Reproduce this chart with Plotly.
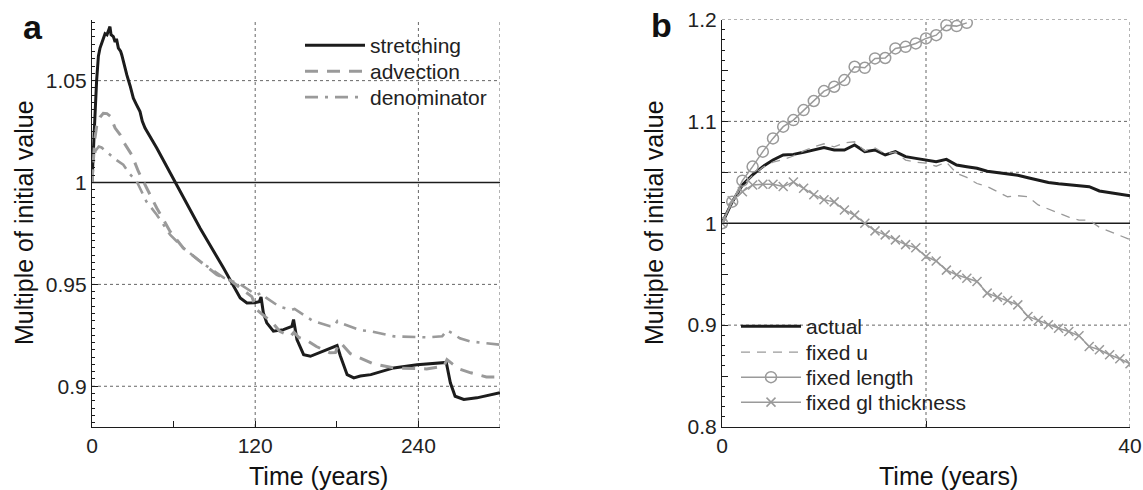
import plotly.graph_objects as go

# ---------------- panel a: terms of the budget over 300 years ----------------
stretch_t = [0, 1, 2.2, 3.4, 4.7, 5.9, 7.1, 8.3, 9.6, 11, 12, 13.2, 14, 15.7, 17, 18,
             19.4, 21, 21.9, 23.5, 25.6, 28, 30.4, 32.5, 35.3, 37, 39, 47.6, 62.3,
             79.5, 96.7, 109, 113.9, 119.5, 123, 124.3, 126, 128.5, 133.4, 140.8,
             147, 148.2, 150.7, 155.6, 160.6, 170.4, 180.2, 182.7, 187.6, 192.5,
             197.3, 205, 221.8, 239, 258.7, 260.5, 263.5, 267, 273.4, 283, 300]
stretch_v = [1.0, 1.02, 1.033, 1.05, 1.062, 1.066, 1.068, 1.0705, 1.073, 1.0725, 1.074,
             1.0765, 1.0725, 1.0716, 1.069, 1.0705, 1.066, 1.0645, 1.0626, 1.058,
             1.0528, 1.0475, 1.0414, 1.0385, 1.0348, 1.030, 1.0267, 1.0169, 0.9989,
             0.9776, 0.958, 0.9433, 0.9409, 0.941, 0.9415, 0.9438, 0.936, 0.9311,
             0.927, 0.9278, 0.9294, 0.9327, 0.9229, 0.9155, 0.9147, 0.9172, 0.920,
             0.9147, 0.9057, 0.9041, 0.905, 0.9057, 0.909, 0.9106, 0.9115, 0.9117,
             0.9017, 0.8951, 0.8935, 0.8943, 0.8968]

advect_t = [0, 1, 2, 3.4, 5.9, 8.3, 11, 13.5, 17, 20.6, 23, 29.2, 34.1, 40.2, 47.6,
            57.4, 67.2, 79.5, 91.8, 101.6, 117.5, 121, 128.5, 133, 138, 143, 146,
            148.5, 152, 158, 165, 175, 179, 181.5, 184, 190, 197, 207, 222, 246,
            258.7, 261, 265, 270, 278.5, 290, 300]
advect_v = [1.0, 1.012, 1.021, 1.0275, 1.032, 1.034, 1.0338, 1.0325, 1.0267, 1.0235,
            1.0201, 1.0136, 1.0054, 0.9973, 0.9875, 0.976, 0.9678, 0.9613, 0.9548,
            0.952, 0.944, 0.9376, 0.9335, 0.931, 0.927, 0.9253, 0.9245, 0.9265,
            0.924, 0.9225, 0.9195, 0.9164, 0.9165, 0.9213, 0.9205, 0.916, 0.914,
            0.911, 0.909, 0.9085, 0.9098, 0.9131, 0.911, 0.9085, 0.9066, 0.9046,
            0.9046]

denom_t = [0, 1, 2.5, 5, 7, 10, 13.2, 18, 23, 28, 32.9, 40, 47.6, 57.4, 67, 80,
           96.7, 109, 121, 124.5, 128, 138, 147, 149, 162.5, 175, 178, 180.5, 185,
           192.5, 197.3, 205, 222, 246, 257.5, 261, 265, 270.5, 278, 300]
denom_v = [1.0, 1.009, 1.0155, 1.0177, 1.0172, 1.0155, 1.0136, 1.011, 1.0087, 1.004,
           1.0005, 0.9907, 0.9842, 0.9744, 0.968, 0.961, 0.9533, 0.950, 0.9448,
           0.9458, 0.9435, 0.939, 0.9375, 0.938, 0.932, 0.9295, 0.9295, 0.932,
           0.9305, 0.9286, 0.9275, 0.927, 0.9245, 0.924, 0.9245, 0.9275, 0.926,
           0.9235, 0.922, 0.9204]

# ---------------- panel b: sensitivity experiments over 40 years ----------------
years_b = list(range(41))
actual = [1.0, 1.021, 1.0376, 1.0474, 1.0556, 1.0621, 1.067, 1.0676, 1.0696, 1.0719,
          1.0742, 1.0719, 1.0719, 1.0768, 1.0703, 1.0719, 1.067, 1.0703, 1.0654,
          1.0637, 1.0621, 1.0605, 1.0627, 1.0572, 1.0555, 1.0539, 1.051, 1.0497,
          1.048, 1.0472, 1.0447, 1.042, 1.040, 1.0388, 1.0378, 1.0368, 1.0359,
          1.0317, 1.030, 1.0288, 1.027]
fixed_u = [1.0, 1.021, 1.037, 1.047, 1.055, 1.060, 1.0625, 1.066, 1.071, 1.075, 1.078,
           1.075, 1.079, 1.080, 1.071, 1.074, 1.068, 1.070, 1.062, 1.060, 1.059,
           1.056, 1.060, 1.049, 1.045, 1.039, 1.036, 1.031, 1.026, 1.027, 1.026,
           1.018, 1.014, 1.010, 1.006, 1.003, 1.003, 0.996, 0.992, 0.988, 0.984]
years_len = list(range(25))
fixed_length = [1.0, 1.0212, 1.0418, 1.0556, 1.0703, 1.0833, 1.0948, 1.1013, 1.1111,
                1.120, 1.1297, 1.134, 1.1405, 1.1536, 1.1526, 1.1618, 1.1622, 1.1716,
                1.1732, 1.1765, 1.1814, 1.1846, 1.1944, 1.1935, 1.1967]
fixed_gl = [1.0, 1.022, 1.031, 1.0376, 1.0382, 1.0382, 1.036, 1.0405, 1.0343, 1.028,
            1.023, 1.021, 1.013, 1.008, 1.0, 0.9925, 0.9886, 0.9837, 0.979, 0.976,
            0.9673, 0.963, 0.954, 0.9494, 0.9461, 0.9428, 0.9314, 0.9275, 0.9242,
            0.9199, 0.9085, 0.9046, 0.9003, 0.897, 0.8938, 0.8895, 0.8791, 0.8758,
            0.8709, 0.867, 0.862]

# axis ranges, ticks and dotted grid positions
A_XRANGE, A_YRANGE = [0, 300], [0.88, 1.08]
A_XTICKS = [0, 60, 120, 180, 240, 300]
A_XTEXT = ["0", "", "120", "", "240", ""]
A_YTICKS = [0.9, 0.95, 1.0, 1.05]
A_YTEXT = ["0.9", "0.95", "1", "1.05"]
A_GRID_X = [120, 240, 300]
A_GRID_Y = [0.9, 0.95, 1.05]

B_XRANGE, B_YRANGE = [0, 40], [0.8, 1.2]
B_XTICKS = [0, 20, 40]
B_XTEXT = ["0", "", "40"]
B_YTICKS = [0.8, 0.85, 0.9, 0.95, 1.0, 1.05, 1.1, 1.15, 1.2]
B_YTEXT = ["0.8", "", "0.9", "", "1", "", "1.1", "", "1.2"]
B_GRID_X = [20, 40]
B_GRID_Y = [0.9, 1.05, 1.1, 1.2]

W, H = 1143, 490
FONT = "Liberation Sans, Arial, Helvetica, sans-serif"
BLACK = "#1c1c1c"
GREY = "#9a9a9a"

px_x = lambda p: p / W
px_y = lambda p: 1 - p / H

# one single-entry legend per trace, so each row sits at its own height
LEG_A_X, LEG_A_TOPS = 300, [25, 51, 77]
LEG_B_X, LEG_B_TOPS = 736, [306, 332, 357, 382]

fig = go.Figure()

# panel a traces
fig.add_trace(go.Scatter(x=stretch_t, y=stretch_v, name="stretching", mode="lines",
                         line=dict(color=BLACK, width=3), xaxis="x", yaxis="y",
                         legend="legend", showlegend=True))
fig.add_trace(go.Scatter(x=advect_t, y=advect_v, name="advection", mode="lines",
                         line=dict(color=GREY, width=3, dash="13px,9px"),
                         xaxis="x", yaxis="y", legend="legend2"))
fig.add_trace(go.Scatter(x=denom_t, y=denom_v, name="denominator", mode="lines",
                         line=dict(color=GREY, width=2.6, dash="13px,7px,3px,7px"),
                         xaxis="x", yaxis="y", legend="legend3"))

# panel b traces
fig.add_trace(go.Scatter(x=years_b, y=actual, name="actual", mode="lines",
                         line=dict(color=BLACK, width=3), xaxis="x2", yaxis="y2",
                         legend="legend4"))
fig.add_trace(go.Scatter(x=years_b, y=fixed_u, name="fixed u", mode="lines",
                         line=dict(color=GREY, width=1.3, dash="9px,7px"),
                         xaxis="x2", yaxis="y2", legend="legend5"))
fig.add_trace(go.Scatter(x=years_len, y=fixed_length, name="fixed length",
                         mode="lines+markers",
                         line=dict(color=GREY, width=1.5),
                         marker=dict(symbol="circle-open", size=11, color=GREY,
                                     line=dict(width=1.5, color=GREY)),
                         xaxis="x2", yaxis="y2", legend="legend6"))
fig.add_trace(go.Scatter(x=years_b, y=fixed_gl, name="fixed gl thickness",
                         mode="lines+markers",
                         line=dict(color=GREY, width=1.5),
                         marker=dict(symbol="x-thin-open", size=9, color=GREY,
                                     line=dict(width=1.5, color=GREY)),
                         xaxis="x2", yaxis="y2", legend="legend7"))

tickfont = dict(family=FONT, size=21, color="#222")
common_axis = dict(showline=True, linecolor=BLACK, linewidth=1.2, ticks="inside",
                   ticklen=6, tickwidth=1, tickcolor=BLACK, showgrid=False,
                   zeroline=False, tickfont=tickfont, automargin=False,
                   fixedrange=True)

def legend_box(x, top):
    return dict(x=px_x(x), y=px_y(top), xanchor="left", yanchor="top",
                bgcolor="rgba(0,0,0,0)", itemwidth=60, visible=True,
                font=dict(family=FONT, size=21, color="#222"))

legends = {}
for i, top in enumerate(LEG_A_TOPS):
    legends["legend" if i == 0 else f"legend{i + 1}"] = legend_box(LEG_A_X, top)
for i, top in enumerate(LEG_B_TOPS):
    legends[f"legend{i + 4}"] = legend_box(LEG_B_X, top)

ydom = [px_y(427), px_y(19.5)]
fig.update_layout(
    template="none",
    width=W, height=H,
    margin=dict(l=0, r=0, t=0, b=0),
    showlegend=True,
    paper_bgcolor="white", plot_bgcolor="white",
    font=dict(family=FONT, color="#222"),
    xaxis=dict(domain=[px_x(92), px_x(500)], range=A_XRANGE, tickmode="array",
               tickvals=A_XTICKS, ticktext=A_XTEXT, anchor="y", **common_axis),
    yaxis=dict(domain=ydom, range=A_YRANGE, tickmode="array", tickvals=A_YTICKS,
               ticktext=A_YTEXT, anchor="x",
               minor=dict(ticks="inside", ticklen=3, tickcolor=BLACK,
                          dtick=0.05 / 14, tick0=0.9, showgrid=False),
               **common_axis),
    xaxis2=dict(domain=[px_x(722), px_x(1130)], range=B_XRANGE, tickmode="array",
                tickvals=B_XTICKS, ticktext=B_XTEXT, anchor="y2", **common_axis),
    yaxis2=dict(domain=ydom, range=B_YRANGE, tickmode="array", tickvals=B_YTICKS,
                ticktext=B_YTEXT, anchor="x2",
                minor=dict(ticks="inside", ticklen=3, tickcolor=BLACK, dtick=0.01,
                           tick0=0.8, showgrid=False),
                **common_axis),
    **legends,
)

shapes = []
dot = dict(color="#666", width=1, dash="dot")
for gx in A_GRID_X:
    shapes.append(dict(type="line", xref="x", yref="y", x0=gx, x1=gx,
                       y0=A_YRANGE[0], y1=A_YRANGE[1], line=dot, layer="below"))
for gy in A_GRID_Y:
    shapes.append(dict(type="line", xref="x", yref="y", x0=A_XRANGE[0], x1=A_XRANGE[1],
                       y0=gy, y1=gy, line=dot, layer="below"))
for gx in B_GRID_X:
    shapes.append(dict(type="line", xref="x2", yref="y2", x0=gx, x1=gx,
                       y0=B_YRANGE[0], y1=B_YRANGE[1], line=dot, layer="below"))
for gy in B_GRID_Y:
    shapes.append(dict(type="line", xref="x2", yref="y2", x0=B_XRANGE[0], x1=B_XRANGE[1],
                       y0=gy, y1=gy, line=dot, layer="below"))
# reference line at the initial value
shapes.append(dict(type="line", xref="x", yref="y", x0=A_XRANGE[0], x1=A_XRANGE[1],
                   y0=1, y1=1, line=dict(color=BLACK, width=1.3), layer="below"))
shapes.append(dict(type="line", xref="x2", yref="y2", x0=B_XRANGE[0], x1=B_XRANGE[1],
                   y0=1, y1=1, line=dict(color=BLACK, width=1.3), layer="below"))
fig.update_layout(shapes=shapes)

ann = []
def label(text, x, y, size, angle=0, bold=False):
    ann.append(dict(text=text, x=px_x(x), y=px_y(y), xref="paper", yref="paper",
                    showarrow=False, textangle=angle, xanchor="center",
                    yanchor="middle",
                    font=dict(family=FONT, size=size, color="#111",
                              weight="bold" if bold else "normal")))

label("a", 33, 27, 34, bold=True)
label("b", 661, 25, 34, bold=True)
label("Multiple of initial value", 24, 223, 25, angle=-90)
label("Multiple of initial value", 654, 223, 25, angle=-90)
label("Time (years)", 318, 476, 25)
label("Time (years)", 948, 476, 25)
fig.update_layout(annotations=ann)

fig.write_html("out.html")
